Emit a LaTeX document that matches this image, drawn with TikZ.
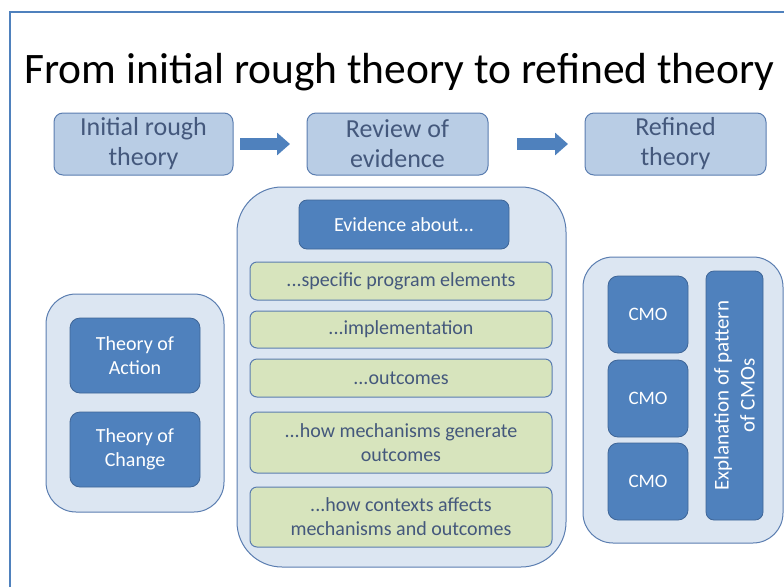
\documentclass[tikz,border=0pt]{standalone}
\usepackage{fontspec}
\setmainfont{Carlito}
\usetikzlibrary{arrows.meta}
\definecolor{frameblue}{HTML}{4F81BD}
\definecolor{lightbox}{HTML}{B9CDE5}
\definecolor{contfill}{HTML}{DCE6F2}
\definecolor{darkfill}{HTML}{4F81BD}
\definecolor{darkedge}{HTML}{3E6597}
\definecolor{greenfill}{HTML}{D7E4BD}
\definecolor{slate}{HTML}{44587C}
\definecolor{edgeblue}{HTML}{5A7DB0}
\begin{document}
\begin{tikzpicture}[x=1pt,y=-1pt,
 every node/.style={inner sep=0pt, outer sep=0pt, align=center},
 topbox/.style={draw=edgeblue, line width=1pt, fill=lightbox, rounded corners=9pt, text=slate, font=\fontsize{26}{30}\selectfont},
 container/.style={draw=edgeblue, fill=contfill, line width=1pt},
 darkbox/.style={draw=darkedge, fill=darkfill, rounded corners=10pt, text=white, line width=0.8pt, font=\fontsize{20}{24}\selectfont},
 greenbox/.style={draw=edgeblue, fill=greenfill, rounded corners=7pt, text=slate, line width=1pt, font=\fontsize{20}{24}\selectfont},
 blockarrow/.style={draw=darkfill, line width=12pt, -{Triangle[length=13pt,width=22pt]}}
]
\useasboundingbox (0,0) rectangle (784,587);
\draw[frameblue, line width=1.5pt] (10,587) -- (10,12) -- (784,12);

\node[font=\fontsize{43.5}{50}\selectfont, anchor=base] (title) at (399.5,83) {From initial rough theory to refined theory};

\node[topbox, minimum width=179pt, minimum height=62pt] (init) at (143.5,144) {Initial rough\\theory};
\node[topbox, minimum width=181pt, minimum height=62pt] (review) at (397.5,144) {Review of\\evidence};
\node[topbox, minimum width=181pt, minimum height=62pt] (refined) at (675.5,144) {Refined\\theory};

\draw[blockarrow] ([xshift=7pt]init.east) -- ([xshift=-17pt]review.west);
\draw[blockarrow] ([xshift=29pt]review.east) -- ([xshift=-17pt]refined.west);

% middle container
\node[container, rounded corners=45pt, minimum width=329pt, minimum height=380pt] (mid) at (401.5,377) {};
\node[darkbox, rounded corners=8pt, minimum width=210pt, minimum height=49pt] (evid) at (404,224.5) {Evidence about...};
\node[greenbox, minimum width=302pt, minimum height=38pt] (g1) at (401,281) {...specific program elements};
\node[greenbox, minimum width=302pt, minimum height=37pt] (g2) at (401,329.5) {...implementation};
\node[greenbox, minimum width=302pt, minimum height=38pt] (g3) at (401,378) {...outcomes};
\node[greenbox, minimum width=302pt, minimum height=61pt] (g4) at (401,442.5) {...how mechanisms generate\\outcomes};
\node[greenbox, minimum width=302pt, minimum height=60pt] (g5) at (401,517) {...how contexts affects\\mechanisms and outcomes};

% left container
\node[container, rounded corners=30pt, minimum width=178pt, minimum height=218pt] (left) at (135,403) {};
\node[darkbox, minimum width=130pt, minimum height=75pt] (toa) at (135,355.5) {Theory of\\Action};
\node[darkbox, minimum width=130pt, minimum height=75pt] (toc) at (135,449.5) {Theory of\\Change};

% right container
\node[container, rounded corners=30pt, minimum width=200pt, minimum height=286pt] (right) at (683,400) {};
\node[darkbox, font=\fontsize{19}{24}\selectfont, minimum width=80pt, minimum height=77pt] (cmo1) at (648,314.5) {CMO};
\node[darkbox, font=\fontsize{19}{24}\selectfont, minimum width=80pt, minimum height=77pt] (cmo2) at (648,398.5) {CMO};
\node[darkbox, font=\fontsize{19}{24}\selectfont, minimum width=80pt, minimum height=77pt] (cmo3) at (648,481.5) {CMO};
\node[darkbox, font=\fontsize{21}{26}\selectfont, rounded corners=8pt, rotate=90, minimum width=249pt, minimum height=57pt] (expl) at (734.5,395.5) {Explanation of pattern\\of CMOs};
\end{tikzpicture}
\end{document}
